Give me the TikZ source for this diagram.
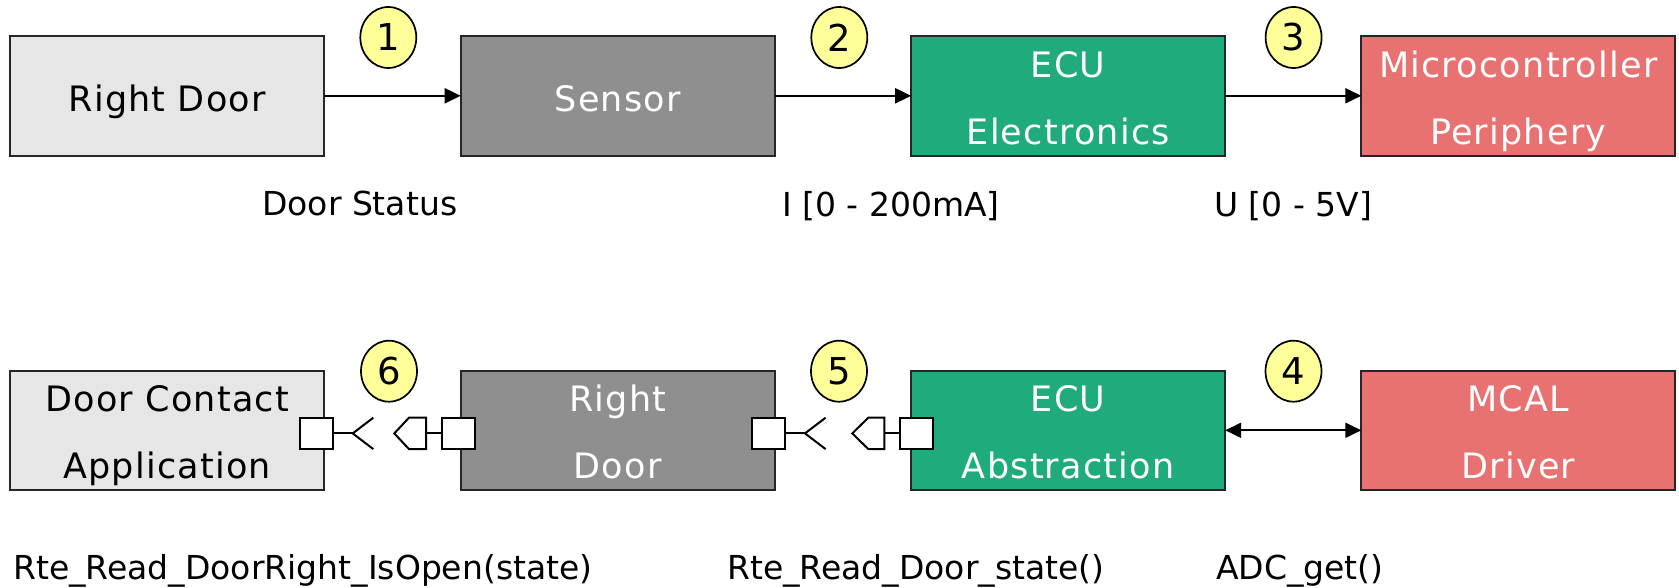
\documentclass[tikz,border=0pt]{standalone}
\usepackage{fontspec}
\setmainfont{DejaVu Sans}
\newfontfamily\boxfont[LetterSpace=3.5]{DejaVu Sans}
\usetikzlibrary{shapes.geometric,arrows.meta,calc}
\definecolor{lightbox}{HTML}{E6E6E6}
\definecolor{darkbox}{HTML}{8F8F8F}
\definecolor{greenbox}{HTML}{1FAB7B}
\definecolor{redbox}{HTML}{E87171}
\definecolor{numfill}{HTML}{FFFF99}
\definecolor{edgecol}{HTML}{262626}
\begin{document}
\begin{tikzpicture}[x=1pt,y=-1pt,
  blk/.style={rectangle,draw=edgecol,line width=2pt,minimum width=314pt,minimum height=119.5pt,inner sep=0pt,outer sep=0pt},
  lightblk/.style={blk,fill=lightbox},
  darkblk/.style={blk,fill=darkbox},
  greenblk/.style={blk,fill=greenbox},
  redblk/.style={blk,fill=redbox},
  boxtxt/.style={font=\boxfont\fontsize{35}{42}\selectfont,inner sep=0pt,anchor=base},
  whitetxt/.style={boxtxt,text=white},
  lbl/.style={font=\fontsize{33}{40}\selectfont,inner sep=0pt,anchor=base west},
  num/.style={ellipse,draw=black,line width=1.7pt,fill=numfill,minimum width=56pt,minimum height=61pt,inner sep=0pt,font=\fontsize{37}{40}\selectfont},
  conn/.style={line width=2pt,-{Triangle[length=16pt,width=15pt]}},
  portsq/.style={rectangle,draw=black,fill=white,line width=2pt,minimum width=32.5pt,minimum height=31.3pt,inner sep=0pt,outer sep=0pt},
  portln/.style={draw=black,line width=2pt},
]
\useasboundingbox (0,0) rectangle (1679,588);

% top row
\node[lightblk] (rd) at (167.2,95.8) {};
\node[darkblk]  (se) at (617.7,95.8) {};
\node[greenblk] (ee) at (1068.2,95.8) {};
\node[redblk]   (mp) at (1518.3,95.8) {};

\node[boxtxt] (rdt) at ($(rd.center)+(0,15.3)$) {Right Door};
\node[whitetxt] (set) at ($(se.center)+(0,15.3)$) {Sensor};
\node[whitetxt] (eet1) at ($(ee.center)+(0,-18.4)$) {ECU};
\node[whitetxt] (eet2) at ($(ee.center)+(0,48.3)$) {Electronics};
\node[whitetxt] (mpt1) at ($(mp.center)+(0,-18.4)$) {Microcontroller};
\node[whitetxt] (mpt2) at ($(mp.center)+(0,48.3)$) {Periphery};

\draw[conn] (rd) -- (se);
\draw[conn] (se) -- (ee);
\draw[conn] (ee) -- (mp);

\node[num] (n1) at (388.3,37.5) {1};
\node[num] (n2) at (839.3,37.5) {2};
\node[num] (n3) at (1293.6,37.5) {3};

\node[lbl] (l1) at (262,215.5) {Door Status};
\node[lbl] (l2) at (782,216.5) {I [0 - 200mA]};
\node[lbl] (l3) at (1214,216.5) {U [0 - 5V]};

% bottom row
\node[lightblk] (dc) at (167.2,430.3) {};
\node[darkblk]  (rr) at (617.7,430.3) {};
\node[greenblk] (ea) at (1068.2,430.3) {};
\node[redblk]   (md) at (1518.3,430.3) {};

\node[boxtxt] (dct1) at ($(dc.center)+(0,-18.4)$) {Door Contact};
\node[boxtxt] (dct2) at ($(dc.center)+(0,48.3)$) {Application};
\node[whitetxt] (rrt1) at ($(rr.center)+(0,-18.4)$) {Right};
\node[whitetxt] (rrt2) at ($(rr.center)+(0,48.3)$) {Door};
\node[whitetxt] (eat1) at ($(ea.center)+(0,-18.4)$) {ECU};
\node[whitetxt] (eat2) at ($(ea.center)+(0,48.3)$) {Abstraction};
\node[whitetxt] (mdt1) at ($(md.center)+(0,-18.4)$) {MCAL};
\node[whitetxt] (mdt2) at ($(md.center)+(0,48.3)$) {Driver};

\draw[line width=2pt,{Triangle[length=16pt,width=15pt]}-{Triangle[length=16pt,width=15pt]}] (ea) -- (md);

% ports pair 1
\node[portsq] (rq1) at (316.3,433.4) {};
\node[portsq] (pv1) at (458.3,433.4) {};
\coordinate (v1) at (352.7,433.4);
\coordinate (pt1) at (426,433.4);
\draw[portln] (rq1.east) -- (v1);
\draw[portln] ($(v1)+(20.6,-15.7)$) -- (v1) -- ($(v1)+(20.6,15.7)$);
\draw[portln,fill=white,line join=miter] (394.3,433.4) -- (409,417.7) -- (426,417.7) -- (426,449.1) -- (409,449.1) -- cycle;
\draw[portln] (pt1) -- (pv1.west);

% ports pair 2
\node[portsq] (rq2) at (768.7,433.4) {};
\node[portsq] (pv2) at (916.3,433.4) {};
\coordinate (v2) at (805,433.4);
\coordinate (pt2) at (884.3,433.4);
\draw[portln] (rq2.east) -- (v2);
\draw[portln] ($(v2)+(20.6,-15.7)$) -- (v2) -- ($(v2)+(20.6,15.7)$);
\draw[portln,fill=white,line join=miter] (852.3,433.4) -- (868.3,417.7) -- (884.3,417.7) -- (884.3,449.1) -- (868.3,449.1) -- cycle;
\draw[portln] (pt2) -- (pv2.west);

\node[num] (n6) at (389,371.2) {6};
\node[num] (n5) at (839,371.2) {5};
\node[num] (n4) at (1293.5,371.2) {4};

\node[lbl] (l6) at (13,579) {Rte\_Read\_DoorRight\_IsOpen(state)};
\node[lbl] (l5) at (727,579) {Rte\_Read\_Door\_state()};
\node[lbl] (l4) at (1216,579) {ADC\_get()};
\end{tikzpicture}
\end{document}
